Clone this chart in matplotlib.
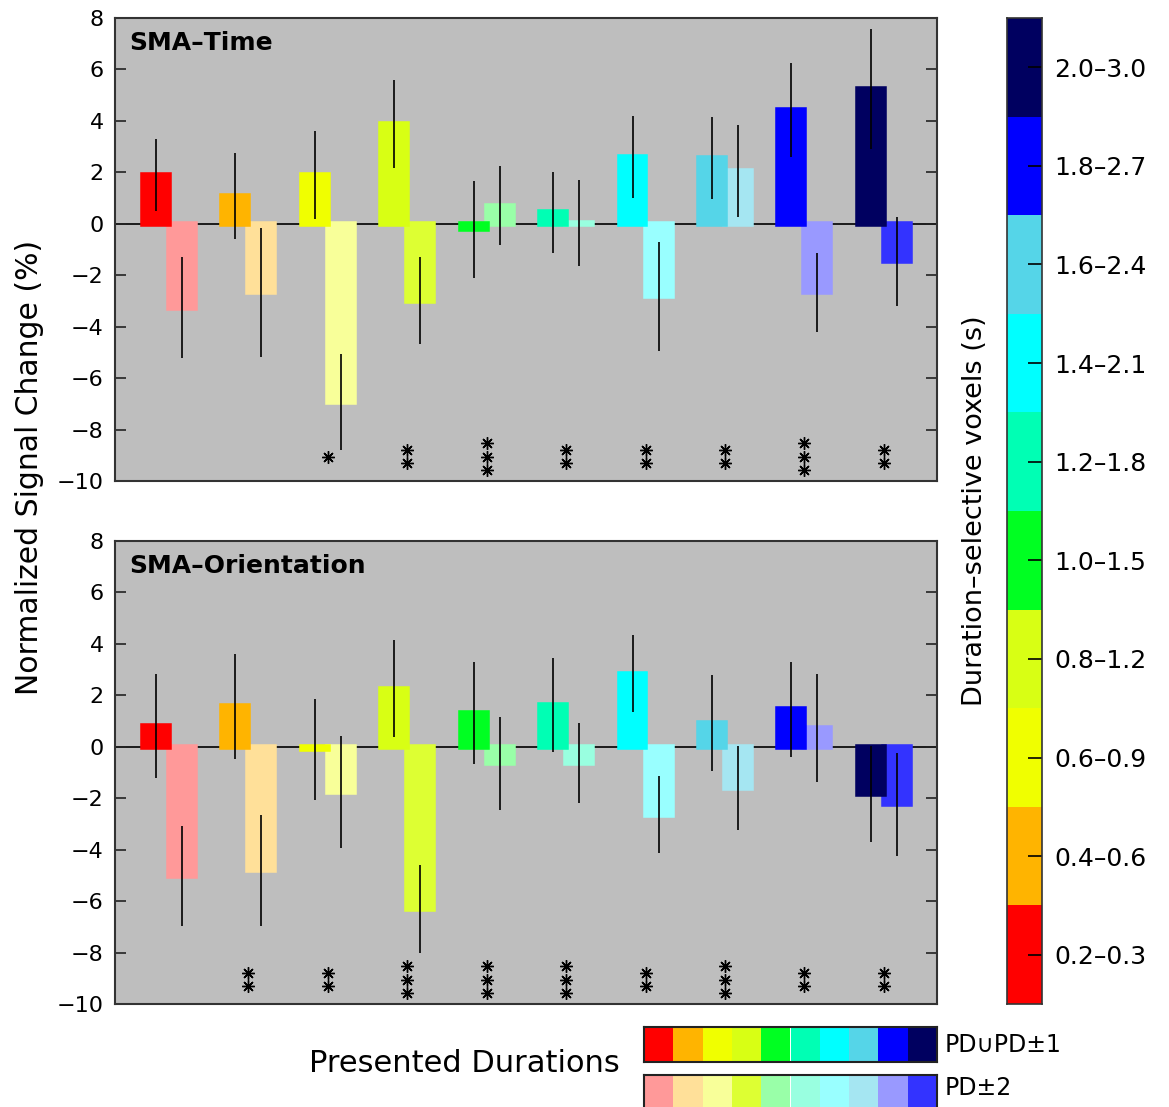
import numpy as np
import matplotlib
matplotlib.use("Agg")
import matplotlib.pyplot as plt

plt.rcParams['font.family'] = ['DejaVu Sans']
plt.rcParams['axes.unicode_minus'] = True

# Ten duration bins (colour-coded), two conditions per bin
bins = ["0.2\u20130.3", "0.4\u20130.6", "0.6\u20130.9", "0.8\u20131.2", "1.0\u20131.5",
        "1.2\u20131.8", "1.4\u20132.1", "1.6\u20132.4", "1.8\u20132.7", "2.0\u20133.0"]

colors_near = ['#FF0000', '#FFB400', '#F0FF00', '#D8FF14', '#00FF22',
               '#00FFB4', '#00FFFF', '#55D5E8', '#0000FF', '#000060']
colors_far = ['#FF9999', '#FFE099', '#F8FF99', '#DDFF33', '#99FFA8',
              '#99FFE0', '#99FFFF', '#A5E6F2', '#9999FF', '#3333FF']

# SMA-Time: PD∪PD±1 and PD±2 mean signal change and error
time_near = [1.90, 1.08, 1.90, 3.89, -0.22, 0.44, 2.60, 2.57, 4.41, 5.24]
time_near_err = [1.39, 1.67, 1.72, 1.71, 1.87, 1.58, 1.58, 1.60, 1.83, 2.32]
time_far = [-3.26, -2.67, -6.94, -2.99, 0.70, 0.02, -2.81, 2.05, -2.67, -1.46]
time_far_err = [1.96, 2.49, 1.87, 1.68, 1.53, 1.68, 2.12, 1.78, 1.52, 1.73]
time_stars = [0, 0, 1, 2, 3, 2, 2, 2, 3, 2]

# SMA-Orientation
orient_near = [0.80, 1.57, -0.10, 2.26, 1.30, 1.63, 2.84, 0.93, 1.45, -1.85]
orient_near_err = [2.01, 2.03, 1.95, 1.88, 1.98, 1.83, 1.50, 1.87, 1.84, 1.87]
orient_far = [-5.02, -4.80, -1.75, -6.31, -0.65, -0.63, -2.64, -1.60, 0.73, -2.24]
orient_far_err = [1.93, 2.16, 2.17, 1.71, 1.82, 1.56, 1.49, 1.63, 2.10, 2.01]
orient_stars = [0, 2, 2, 3, 3, 3, 2, 3, 2, 2]

W, H = 1169, 1107
fig = plt.figure(figsize=(W / 100, H / 100), dpi=100)


def frac(x0, y0, x1, y1):
    return [x0 / W, 1 - y1 / H, (x1 - x0) / W, (y1 - y0) / H]


def panel(rect, title, near, near_err, far, far_err, stars):
    ax = fig.add_axes(rect)
    ax.set_facecolor('#BEBEBE')
    x = np.arange(1, len(near) + 1)
    off, w, edge = 0.164, 0.327, 4.0
    ax.axhline(0, color='black', lw=1.2, zorder=1)
    ax.bar(x + off, far, width=w, color=colors_far, edgecolor=colors_far,
           linewidth=edge, zorder=2)
    ax.bar(x - off, near, width=w, color=colors_near, edgecolor=colors_near,
           linewidth=edge, zorder=3)
    ax.errorbar(x - off, near, yerr=near_err, fmt='none', ecolor='black',
                elinewidth=1.2, capsize=0, zorder=4)
    ax.errorbar(x + off, far, yerr=far_err, fmt='none', ecolor='black',
                elinewidth=1.2, capsize=0, zorder=4)
    # significance asterisks stacked under each bin
    for xi, n in zip(x, stars):
        if n:
            ys = -9.05 + 0.52 * (np.arange(n) - (n - 1) / 2)
            ax.plot([xi] * n, ys, linestyle='none', marker=(8, 2, 0),
                    markersize=9, markeredgewidth=1.0, color='black', zorder=5)
    ax.set_xlim(0.32, 10.67)
    ax.set_ylim(-10, 8)
    ax.set_yticks(np.arange(-10, 9, 2))
    ax.set_xticks([])
    ax.tick_params(axis='y', direction='in', length=8, width=1.2,
                   right=True, labelsize=16, color='#222222', pad=8)
    for s in ax.spines.values():
        s.set_color('#333333')
        s.set_linewidth(1.5)
    ax.text(0.017, 0.972, title, transform=ax.transAxes, fontsize=18,
            fontweight='bold', ha='left', va='top')
    return ax


panel(frac(115, 18, 937, 481), "SMA\u2013Time",
      time_near, time_near_err, time_far, time_far_err, time_stars)
panel(frac(115, 541, 937, 1004), "SMA\u2013Orientation",
      orient_near, orient_near_err, orient_far, orient_far_err, orient_stars)

# Colour key for the duration-selective voxel bins
cax = fig.add_axes(frac(1007, 18, 1042, 1004))
cax.bar(np.zeros(len(bins)), np.ones(len(bins)), bottom=np.arange(len(bins)),
        width=1, color=colors_near, align='center')
cax.set_xlim(-0.5, 0.5)
cax.set_ylim(0, len(bins))
cax.set_xticks([])
cax.set_yticks(np.arange(len(bins)) + 0.5)
cax.set_yticklabels(bins)
cax.yaxis.tick_right()
cax.tick_params(axis='y', direction='in', length=10, width=1.2,
                labelsize=18, pad=9)
for s in cax.spines.values():
    s.set_color('#333333')
    s.set_linewidth(1.2)
fig.text(975 / W, 1 - 511 / H, "Duration\u2013selective voxels (s)",
         rotation=90, ha='center', va='center', fontsize=19.5)

fig.text(30 / W, 1 - 467 / H, "Normalized Signal Change (%)", rotation=90,
         ha='center', va='center', fontsize=21.5)

# Presented-duration colour legend
fig.text(464 / W, 1 - 1064 / H, "Presented Durations", ha='center',
         va='center', fontsize=22)
for (y0, y1), cols, lab, ylab in [((1027, 1062), colors_near, "PD\u222aPD\u00b11", 1045),
                                  ((1075, 1111), colors_far, "PD\u00b12", 1088)]:
    lax = fig.add_axes(frac(644, y0, 937, y1))
    lax.bar(np.arange(len(cols)), np.ones(len(cols)), width=1, color=cols)
    lax.set_xlim(-0.5, len(cols) - 0.5)
    lax.set_ylim(0, 1)
    lax.set_xticks([])
    lax.set_yticks([])
    for s in lax.spines.values():
        s.set_color('#222222')
        s.set_linewidth(1.5)
    fig.text(945 / W, 1 - ylab / H, lab, ha='left', va='center', fontsize=17)

fig.savefig("out.png", dpi=100)
